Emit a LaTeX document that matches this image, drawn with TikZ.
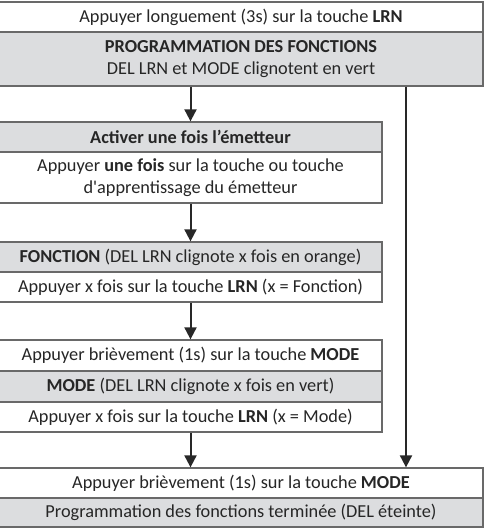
\documentclass[tikz,border=0pt]{standalone}
\usepackage{fontspec}
\setmainfont{Carlito}
\usetikzlibrary{arrows.meta}
\definecolor{rowgray}{RGB}{220,221,223}
\definecolor{edgec}{RGB}{105,105,105}
\definecolor{arrowc}{RGB}{40,40,40}
\tikzset{
 row/.style={draw=edgec, line width=1.3pt, inner sep=0pt, align=center,
   font=\fontsize{18.3}{21.8}\selectfont, text=black!85},
 whiterow/.style={row, fill=white},
 grayrow/.style={row, fill=rowgray},
 wide/.style={minimum width=484pt},
 narrow/.style={minimum width=383pt},
 arr/.style={draw=arrowc, line width=2pt, -{Triangle[width=12pt,length=12pt]}}
}
\begin{document}
\begin{tikzpicture}[x=1pt,y=-1pt]
\useasboundingbox (0,0) rectangle (484,529);
% box 1
\node[whiterow, wide, minimum height=30pt] (b1a) at (241,17) {Appuyer longuement (3s) sur la touche \textbf{LRN}};
\node[grayrow, wide, minimum height=54pt] (b1b) at (241,59) {\textbf{PROGRAMMATION DES FONCTIONS}\\DEL LRN et MODE clignotent en vert};
% box 2
\node[grayrow, narrow, minimum height=30pt] (b2a) at (190.5,137) {\textbf{Activer une fois l’émetteur}};
\node[whiterow, narrow, minimum height=51pt] (b2b) at (190.5,177.5) {Appuyer \textbf{une fois} sur la touche ou touche\\d\textquotesingle apprentissage du émetteur};
% box 3
\node[grayrow, narrow, minimum height=30pt] (b3a) at (190.5,257) {\textbf{FONCTION} (DEL LRN clignote x fois en orange)};
\node[whiterow, narrow, minimum height=30pt] (b3b) at (190.5,287) {Appuyer x fois sur la touche \textbf{LRN} (x = Fonction)};
% box 4
\node[whiterow, narrow, minimum height=31pt] (b4a) at (190.5,355.5) {Appuyer brièvement (1s) sur la touche \textbf{MODE}};
\node[grayrow, narrow, minimum height=31pt] (b4b) at (190.5,386.5) {\textbf{MODE} (DEL LRN clignote x fois en vert)};
\node[whiterow, narrow, minimum height=30pt] (b4c) at (190.5,417) {Appuyer x fois sur la touche \textbf{LRN} (x = Mode)};
% box 5
\node[whiterow, wide, minimum height=30pt] (b5a) at (241,483) {Appuyer brièvement (1s) sur la touche \textbf{MODE}};
\node[grayrow, wide, minimum height=29pt] (b5b) at (241,512.5) {Programmation des fonctions terminée (DEL éteinte)};
% connectors
\coordinate (rx) at (406,0);
\draw[arr] (b2a.north |- b1b.south) -- (b2a.north);
\draw[arr] (b2b.south) -- (b3a.north);
\draw[arr] (b3b.south) -- (b4a.north);
\draw[arr] (b4c.south) -- (b5a.north -| b4c.south);
\draw[arr] (b1b.south -| rx) -- (b5a.north -| rx);
\end{tikzpicture}
\end{document}
